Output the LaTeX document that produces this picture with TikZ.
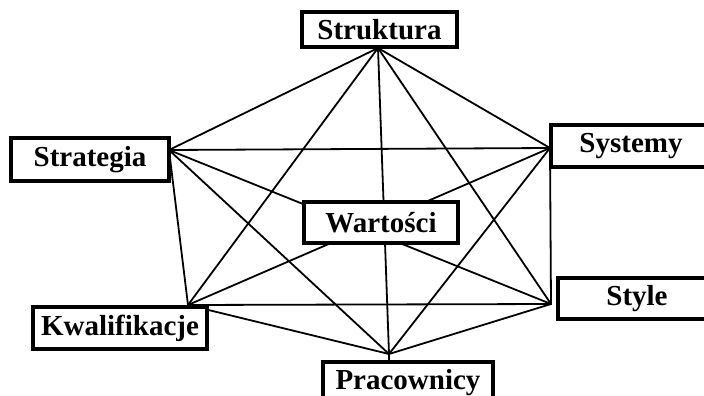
\documentclass[tikz,border=0pt]{standalone}
\usepackage{fontspec}
\setmainfont{Liberation Serif}
\begin{document}
\begin{tikzpicture}[x=1pt,y=-1pt,
  link/.style={line width=1.8pt, line cap=round},
  factor/.style={draw, line width=3.2pt, fill=white, inner sep=0pt,
    font=\fontsize{29}{31}\selectfont\bfseries}]
\useasboundingbox (0,0) rectangle (704,396);
\clip (0,0) rectangle (704,396);

% corners of the hexagon where the links meet
\coordinate (vStruktura)    at (378,48);
\coordinate (vSystemy)      at (550,148);
\coordinate (vStyle)        at (551,304);
\coordinate (vPracownicy)   at (389,354);
\coordinate (vKwalifikacje) at (188,305);
\coordinate (vStrategia)    at (169,150);

% every factor linked with every other one
\foreach \a/\b in {Struktura/Systemy, Struktura/Style, Struktura/Pracownicy,
                   Struktura/Kwalifikacje, Struktura/Strategia,
                   Systemy/Style, Systemy/Pracownicy, Systemy/Kwalifikacje,
                   Systemy/Strategia,
                   Style/Pracownicy, Style/Kwalifikacje, Style/Strategia,
                   Pracownicy/Kwalifikacje, Pracownicy/Strategia,
                   Kwalifikacje/Strategia}
  \draw[link] (v\a) -- (v\b);

% boxes
\node[factor, minimum width=155pt, minimum height=35pt] (struktura) at (379.5,29.5) {Struktura};
\node[factor, minimum width=158pt, minimum height=43pt] (strategia) at (90,159.5) {Strategia};
\node[factor, minimum width=160pt, minimum height=42pt] (systemy) at (631,146) {Systemy};
\node[factor, minimum width=158pt, minimum height=41pt] (style) at (637,298.5) {Style};
\node[factor, minimum width=154pt, minimum height=41pt] (wartosci) at (381,222.5) {Wartości};
\node[factor, minimum width=174pt, minimum height=42pt] (kwalifikacje) at (120,328) {Kwalifikacje};
\node[factor, minimum width=170pt, minimum height=42pt] (pracownicy) at (408,383) {Pracownicy};

% short stub down to the Pracownicy box
\draw[link] (vPracownicy) -- (pracownicy.north -| vPracownicy);
\end{tikzpicture}
\end{document}
